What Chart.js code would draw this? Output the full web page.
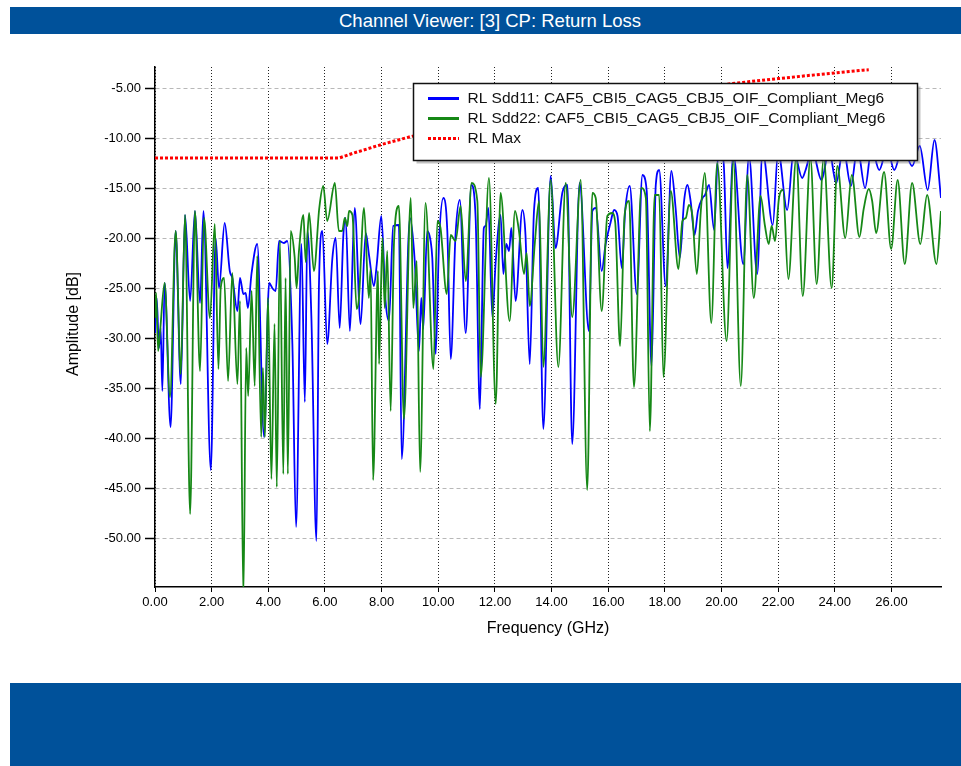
<!DOCTYPE html>
<html>
<head>
<meta charset="utf-8">
<script src="https://cdn.jsdelivr.net/npm/chart.js@4.4.1/dist/chart.umd.min.js"></script>
<style>
  html, body { margin: 0; padding: 0; background: #fff; }
  body { width: 961px; height: 766px; position: relative; overflow: hidden; font-family: "Liberation Sans", Arial, sans-serif; }
  #titlebar { position: absolute; left: 10px; top: 7px; width: 942px; height: 27px; padding-left: 9px;
    background: #00519a; color: #fff; font-size: 18.5px; line-height: 27px; text-align: center; }
  #bottombar { position: absolute; left: 10px; top: 683px; width: 951px; height: 83px; background: #00519a; }
  #c { position: absolute; left: 0; top: 0; }
</style>
</head>
<body>
<canvas id="c" width="961" height="766"></canvas>
<div id="titlebar">Channel Viewer: [3] CP: Return Loss</div>
<div id="bottombar"></div>
<script>
// ---------- data ----------
const chartTitle = "Channel Viewer: [3] CP: Return Loss";
const xAxisTitle = "Frequency (GHz)";
const yAxisTitle = "Amplitude [dB]";
const seriesNames = ["RL Sdd11: CAF5_CBI5_CAG5_CBJ5_OIF_Compliant_Meg6",
                     "RL Sdd22: CAF5_CBI5_CAG5_CBJ5_OIF_Compliant_Meg6",
                     "RL Max"];
const xTickValues = [0, 2, 4, 6, 8, 10, 12, 14, 16, 18, 20, 22, 24, 26];
const yTickValues = [-50, -45, -40, -35, -30, -25, -20, -15, -10, -5];

const freqSdd11 = [0.00,0.06,0.14,0.20,0.26,0.34,0.55,0.73,0.91,1.06,1.24,1.41,1.59,1.71,1.97,2.14,2.26,2.46,2.64,2.73,2.91,3.00,3.12,3.20,3.28,3.41,3.61,3.85,4.03,4.14,4.26,4.38,4.55,4.67,4.85,4.98,5.17,5.29,5.38,5.52,5.70,5.79,5.91,6.08,6.26,6.38,6.52,6.65,6.73,6.88,7.05,7.26,7.44,7.56,7.73,7.83,7.99,8.14,8.26,8.41,8.61,8.71,9.00,9.17,9.32,9.40,9.47,9.61,9.73,9.79,9.91,10.03,10.18,10.32,10.44,10.61,10.76,10.97,11.17,11.32,11.47,11.61,11.67,11.77,11.91,12.03,12.20,12.30,12.40,12.50,12.58,12.73,12.97,13.08,13.23,13.38,13.53,13.71,13.97,14.14,14.38,14.56,14.73,14.99,15.32,15.44,15.56,15.77,15.91,16.08,16.21,16.33,16.48,16.60,16.76,17.01,17.21,17.36,17.53,17.68,17.80,18.03,18.23,18.38,18.53,18.68,18.80,18.91,19.05,19.17,19.33,19.42,19.56,19.74,19.88,20.07,20.21,20.42,20.77,20.97,21.26,21.45,21.81,22.00,22.32,22.55,22.85,22.97,23.20,23.53,23.80,24.05,24.30,24.57,24.80,25.07,25.30,25.57,25.85,26.10,26.40,26.73,27.00,27.28,27.52,27.75];
const rlSdd11 = [-29.5,-26.0,-31.0,-29.0,-35.3,-24.5,-38.9,-19.3,-34.6,-17.7,-26.3,-17.3,-26.5,-17.3,-43.2,-20.0,-25.0,-18.5,-23.3,-24.0,-27.3,-24.0,-25.6,-25.5,-27.0,-23.5,-20.6,-39.9,-24.5,-25.0,-25.3,-20.3,-20.5,-20.3,-30.6,-48.9,-20.6,-36.4,-19.3,-27.8,-50.3,-24.5,-19.3,-30.6,-22.1,-20.0,-29.0,-19.7,-18.0,-29.3,-17.0,-28.6,-19.5,-21.8,-24.8,-22.6,-17.8,-26.3,-28.3,-18.8,-18.7,-42.1,-18.0,-22.3,-31.3,-26.0,-29.1,-19.3,-20.3,-22.0,-31.6,-20.3,-16.0,-19.3,-32.1,-19.7,-16.2,-29.5,-14.7,-18.0,-37.1,-19.0,-18.8,-17.0,-27.9,-22.3,-17.7,-23.6,-20.6,-21.3,-19.0,-26.3,-17.2,-19.7,-32.6,-17.3,-15.0,-39.1,-13.8,-21.0,-15.5,-14.7,-40.6,-14.5,-29.3,-17.3,-17.0,-23.3,-20.6,-18.5,-17.2,-17.8,-23.0,-17.3,-14.8,-25.6,-13.7,-15.3,-32.8,-14.7,-13.2,-24.8,-13.3,-17.0,-22.0,-16.3,-14.7,-16.3,-19.7,-17.3,-16.0,-15.7,-14.7,-19.2,-11.8,-12.3,-23.0,-11.6,-22.6,-11.8,-23.6,-11.3,-18.7,-11.3,-17.2,-11.3,-14.0,-13.2,-11.2,-14.2,-11.2,-14.5,-11.0,-14.8,-11.0,-15.0,-11.0,-13.2,-11.0,-13.2,-10.8,-12.8,-10.8,-15.2,-10.2,-16.0];

const freqSdd22 = [0.00,0.04,0.11,0.18,0.34,0.53,0.73,0.91,1.06,1.24,1.41,1.59,1.73,1.94,2.11,2.24,2.32,2.44,2.58,2.73,2.91,3.00,3.12,3.22,3.29,3.41,3.52,3.61,3.75,3.81,3.88,3.99,4.11,4.22,4.30,4.41,4.53,4.61,4.69,4.79,4.93,5.00,5.08,5.24,5.32,5.44,5.61,5.80,5.94,6.08,6.35,6.49,6.61,6.70,6.79,6.85,6.97,7.12,7.20,7.38,7.55,7.61,7.70,7.87,7.91,8.03,8.11,8.20,8.32,8.44,8.61,8.79,9.03,9.12,9.24,9.36,9.55,9.83,9.97,10.08,10.30,10.44,10.61,10.79,10.97,11.18,11.38,11.50,11.79,12.03,12.20,12.52,12.71,12.85,13.03,13.12,13.23,13.41,13.56,13.71,13.97,14.24,14.50,14.73,15.03,15.26,15.44,15.56,15.77,15.97,16.14,16.25,16.42,16.58,16.74,16.91,17.17,17.33,17.47,17.64,17.80,17.95,18.21,18.48,18.62,18.74,18.85,18.97,19.13,19.27,19.41,19.64,19.85,20.18,20.42,20.68,20.91,21.14,21.38,21.53,21.67,21.77,21.89,22.03,22.17,22.36,22.64,22.87,23.14,23.36,23.61,23.89,24.09,24.37,24.60,24.87,25.02,25.20,25.32,25.46,25.74,25.99,26.22,26.47,26.73,27.02,27.26,27.59,27.75];
const rlSdd22 = [-28.0,-25.5,-31.3,-29.3,-24.5,-35.9,-19.3,-33.6,-17.7,-47.6,-17.3,-33.3,-18.0,-28.0,-18.6,-33.1,-25.0,-24.0,-34.3,-23.5,-34.6,-26.3,-56.0,-31.0,-35.8,-25.3,-34.8,-21.8,-39.9,-33.0,-39.9,-26.0,-44.1,-28.6,-44.9,-20.3,-43.6,-24.0,-43.6,-19.3,-21.9,-25.0,-21.4,-17.7,-22.4,-17.5,-23.3,-17.0,-14.8,-18.3,-14.5,-19.3,-19.3,-18.0,-18.8,-17.3,-17.7,-27.1,-26.0,-17.0,-26.0,-23.1,-44.2,-23.3,-32.6,-20.0,-27.0,-21.3,-37.3,-20.3,-16.8,-38.1,-16.0,-27.0,-22.3,-43.4,-16.5,-33.1,-18.3,-19.0,-25.6,-19.7,-20.3,-16.8,-24.3,-14.5,-16.3,-33.9,-14.0,-36.6,-15.5,-28.3,-17.3,-19.3,-23.6,-21.5,-26.8,-20.5,-16.3,-32.9,-14.2,-32.9,-14.5,-27.9,-14.2,-45.2,-15.5,-16.0,-27.3,-17.8,-17.5,-18.5,-30.8,-17.7,-16.3,-34.9,-15.0,-16.0,-39.3,-15.7,-15.7,-33.9,-15.3,-23.1,-18.3,-18.0,-16.7,-17.7,-23.6,-17.3,-13.5,-28.5,-12.5,-30.3,-12.3,-34.8,-13.7,-26.0,-15.8,-18.7,-20.6,-18.8,-20.3,-16.0,-15.2,-24.1,-12.0,-25.8,-12.0,-24.6,-12.0,-25.0,-12.8,-20.0,-13.7,-19.9,-17.1,-15.1,-16.3,-19.5,-13.4,-21.1,-14.2,-22.6,-14.5,-20.6,-15.7,-22.6,-17.3];

const freqMask = [0, 6.5, 7, 8, 9, 10, 11, 12, 13, 14, 15, 16, 17, 18, 19, 20, 21, 22, 23, 24, 25, 25.2];
const rlMax    = [-12, -12, -11.52, -10.65, -9.88, -9.19, -8.57, -8.0, -7.48, -7.0, -6.55, -6.13, -5.74, -5.36, -5.01, -4.68, -4.36, -4.06, -3.77, -3.49, -3.22, -3.17];

const seriesColors = ["#0000ff", "#168816", "#ff0000"];

// ---------- helpers ----------
const toPoints = (xs, ys) => xs.map((x, i) => ({ x: x, y: ys[i] }));
const FONT = '"Liberation Sans", Arial, sans-serif';

const overlayPlugin = {
  id: 'overlay',
  afterDraw(chart) {
    const ctx = chart.ctx;
    const ca = chart.chartArea;
    ctx.save();
    // axis titles
    ctx.fillStyle = '#000';
    ctx.font = '16px ' + FONT;
    ctx.textAlign = 'center';
    ctx.textBaseline = 'middle';
    ctx.fillText(xAxisTitle, (ca.left + ca.right) / 2, 629);
    ctx.save();
    ctx.translate(74, 324);
    ctx.rotate(-Math.PI / 2);
    ctx.fillText(yAxisTitle, 0, 0);
    ctx.restore();

    // legend box
    const lx = 413.5, ly = 83.5, lw = 504, lh = 77;
    ctx.fillStyle = 'rgba(120,120,120,0.45)';
    ctx.fillRect(lx + 3, ly + 3, lw, lh);
    ctx.fillStyle = '#fff';
    ctx.fillRect(lx, ly, lw, lh);
    ctx.strokeStyle = '#111';
    ctx.lineWidth = 1.5;
    ctx.strokeRect(lx, ly, lw, lh);

    const rows = [98.5, 118.5, 138.5];
    ctx.font = '15.5px ' + FONT;
    ctx.textAlign = 'left';
    ctx.textBaseline = 'middle';
    seriesNames.forEach((name, i) => {
      ctx.save();
      ctx.strokeStyle = seriesColors[i];
      ctx.lineWidth = 3;
      if (i === 2) ctx.setLineDash([3, 2]);
      ctx.beginPath();
      ctx.moveTo(428, rows[i]);
      ctx.lineTo(459, rows[i]);
      ctx.stroke();
      ctx.restore();
      ctx.fillStyle = '#111';
      ctx.fillText(name, 467.5, rows[i] + 0.5);
    });
    ctx.restore();
  }
};

new Chart(document.getElementById('c'), {
  type: 'line',
  data: {
    datasets: [
      { label: seriesNames[2], data: toPoints(freqMask, rlMax), borderColor: seriesColors[2],
        borderWidth: 3, borderDash: [3, 2], pointRadius: 0, tension: 0, order: 0 },
      { label: seriesNames[1], data: toPoints(freqSdd22, rlSdd22), borderColor: seriesColors[1],
        borderWidth: 1.8, pointRadius: 0, cubicInterpolationMode: 'monotone', order: 1 },
      { label: seriesNames[0], data: toPoints(freqSdd11, rlSdd11), borderColor: seriesColors[0],
        borderWidth: 1.8, pointRadius: 0, cubicInterpolationMode: 'monotone', order: 2 }
    ]
  },
  options: {
    responsive: false,
    animation: false,
    devicePixelRatio: 1,
    layout: { padding: { left: 0, right: 20, top: 67, bottom: 129 } },
    plugins: { legend: { display: false }, tooltip: { enabled: false }, title: { display: false } },
    scales: {
      x: {
        type: 'linear', min: 0, max: 27.75,
        afterFit: (s) => { s.height = 50; },
        afterBuildTicks: (s) => { s.ticks = xTickValues.map(v => ({ value: v })); },
        grid: { color: '#222', lineWidth: 1, drawTicks: true, tickLength: 5,
                tickColor: '#000', tickWidth: 1, tickBorderDash: [] },
        border: { display: true, color: '#000', width: 1.5, dash: [1, 2] },
        ticks: { color: '#000', font: { family: FONT, size: 13 }, padding: 3, maxRotation: 0,
                 autoSkip: false, callback: (v) => Number(v).toFixed(2) }
      },
      y: {
        type: 'linear', min: -54.9, max: -2.9,
        afterFit: (s) => { s.width = 155; },
        afterBuildTicks: (s) => { s.ticks = yTickValues.map(v => ({ value: v })); },
        grid: { color: '#b8b8b8', lineWidth: 1, drawTicks: true, tickLength: 10,
                tickColor: '#000', tickWidth: 1.5, tickBorderDash: [] },
        border: { display: true, color: '#000', width: 1.5, dash: [4, 3] },
        ticks: { color: '#000', font: { family: FONT, size: 13 }, padding: 4, autoSkip: false,
                 callback: (v) => Number(v).toFixed(2) }
      }
    }
  },
  plugins: [overlayPlugin]
});
</script>
</body>
</html>
